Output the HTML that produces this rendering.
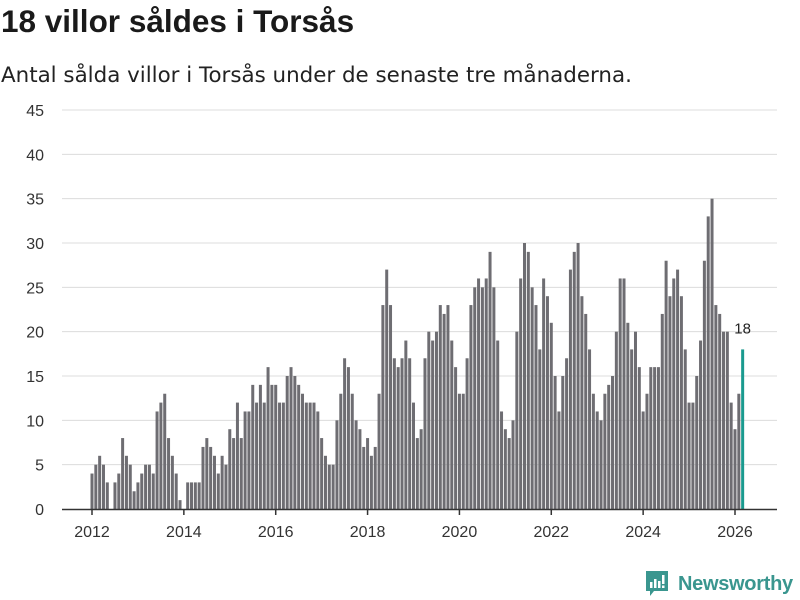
<!DOCTYPE html>
<html><head><meta charset="utf-8"><style>
body{margin:0;background:#fff;font-family:"Liberation Sans",sans-serif;}
#wrap{position:relative;width:800px;height:600px;overflow:hidden;}
h1{position:absolute;left:1px;top:3px;margin:0;font-size:31.5px;font-weight:bold;color:#1a1a1a;}
.sub{position:absolute;left:1px;top:63px;font-size:21.4px;color:#222;font-family:"DejaVu Sans",sans-serif;}
.logo{position:absolute;left:645px;top:570px;display:flex;align-items:center;}
.logo span{font-size:20px;color:#3a968f;font-weight:bold;margin-left:9px;letter-spacing:-0.3px}
</style></head><body>
<div id="wrap">
<h1>18 villor såldes i Torsås</h1>
<div class="sub">Antal sålda villor i Torsås under de senaste tre månaderna.</div>
<svg id="chart" width="800" height="600" style="position:absolute;left:0;top:0"></svg>
<div class="logo">
<svg width="24" height="28" viewBox="0 0 24 28"><path d="M1 1h22v20H9l-4 5v-5H1z" fill="#3a968f"/><rect x="5" y="12" width="2.5" height="6" fill="#fff"/><rect x="9" y="9" width="2.5" height="9" fill="#fff"/><rect x="13" y="11" width="2.5" height="7" fill="#fff"/><rect x="17" y="5" width="2.5" height="9" fill="#fff"/><rect x="17" y="15.5" width="2.5" height="2.5" fill="#fff"/></svg>
<span>Newsworthy</span></div>
</div>
<script>
const values = [4,5,6,5,3,0,3,4,8,6,5,2,3,4,5,5,4,11,12,13,8,6,4,1,0,3,3,3,3,7,8,7,6,4,6,5,9,8,12,8,11,
11,14,12,14,12,16,14,14,12,12,15,16,15,14,13,12,12,12,11,8,6,5,5,10,13,17,16,13,10,9,7,8,6,7,13,23,27,23,17,16,17,19,
17,12,8,9,17,20,19,20,23,22,23,19,16,13,13,17,23,25,26,25,26,29,25,19,11,9,8,10,20,26,30,29,25,23,18,26,24,21,15,11,15,17,27,29,30,
24,22,18,13,11,10,13,14,15,20,26,26,21,18,20,16,11,13,16,16,16,22,28,24,26,27,24,18,12,12,15,19,28,33,35,23,22,20,20,12,9,13,18];
const startYear = 2012;
const yTicks = [0,5,10,15,20,25,30,35,40,45];
const xTicks = [2012,2014,2016,2018,2020,2022,2024,2026];
const NS="http://www.w3.org/2000/svg";
const svg=document.getElementById('chart');
const y0=509, yPer=399/45, x0=92, perYear=(735-92)/14;
const Y=v=>y0-v*yPer;
const X=i=>x0+i*perYear/12;
const XY=yr=>x0+(yr-startYear)*perYear;
function mk(t,a){const e=document.createElementNS(NS,t);for(const k in a)e.setAttribute(k,a[k]);svg.appendChild(e);return e;}
yTicks.forEach(v=>{
  if(v>0){const g=mk('line',{x1:62,x2:777,y1:Y(v),y2:Y(v),stroke:'#dcdcdc','stroke-width':1});
  
  }
  const t=mk('text',{x:44,y:Y(v)+6,'text-anchor':'end','font-size':16,fill:'#333','font-family':'Liberation Sans,sans-serif'});
  t.textContent=v;
  
  
});
const n=values.length;
values.forEach((v,i)=>{
  const last=i===n-1;
  const r=mk('rect',{x:X(i)-1.5,y:Y(v),width:3,height:v*yPer,fill:last?'#1a9a8f':'#6e6d72'});
  
  
});
const lab=mk('text',{x:X(n-1),y:Y(values[n-1])-16,'text-anchor':'middle','font-size':15,fill:'#222','font-family':'Liberation Sans,sans-serif'});
lab.textContent=values[n-1];


const ax=mk('line',{x1:62,x2:777,y1:y0+0.5,y2:y0+0.5,stroke:'#333','stroke-width':1.5});


xTicks.forEach(yr=>{
  const tk=mk('line',{x1:XY(yr),x2:XY(yr),y1:y0,y2:y0+6,stroke:'#333','stroke-width':1.5});
  
  
  const t=mk('text',{x:XY(yr),y:537,'text-anchor':'middle','font-size':16,fill:'#333','font-family':'Liberation Sans,sans-serif'});
  t.textContent=yr;
  
  
});
</script>
</body></html>
